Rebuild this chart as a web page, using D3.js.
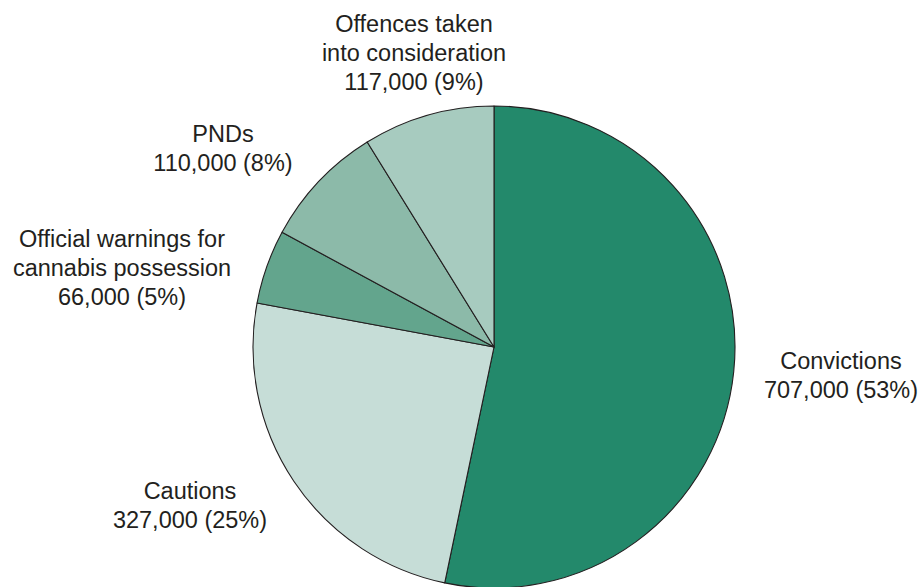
<!DOCTYPE html>
<html>
<head>
<meta charset="utf-8">
<script src="https://cdn.jsdelivr.net/npm/d3@7"></script>
<style>
  body { margin: 0; background: #fff; }
  text { font-family: "Liberation Sans", Arial, sans-serif; font-size: 23.5px; fill: #231f20; }
</style>
</head>
<body>
<svg width="920" height="587"></svg>
<script>
// data
var categories = ["Convictions", "Cautions", "Official warnings for cannabis possession", "PNDs", "Offences taken into consideration"];
var values = [707000, 327000, 66000, 110000, 117000];
var percents = [53, 25, 5, 8, 9];
var labelLines = [
  ["Convictions"],
  ["Cautions"],
  ["Official warnings for", "cannabis possession"],
  ["PNDs"],
  ["Offences taken", "into consideration"]
];

var colors = ["#23896b", "#c6ddd7", "#63a58d", "#8cbaa9", "#a7cbbf"];
// where each label block's last line sits (x centre, baseline)
var labelPos = [[841, 398], [190, 528], [122, 305], [223, 171], [414, 90]];

var svg = d3.select("svg"),
    cx = 494,
    cy = 347,
    radius = 241,
    lineH = 29;

var fmt = d3.format(",");

var pie = d3.pie().sort(null).value(function(d) { return d; });
var arc = d3.arc().innerRadius(0).outerRadius(radius);

var g = svg.append("g")
    .attr("transform", "translate(" + cx + "," + cy + ")");

g.selectAll("path")
  .data(pie(values))
  .enter().append("path")
  .attr("d", arc)
  .attr("fill", function(d, i) { return colors[i]; })
  .attr("stroke", "#231f20")
  .attr("stroke-width", 1.1)
  .attr("stroke-linejoin", "round");

var labels = svg.selectAll(".lbl")
  .data(categories)
  .enter().append("text")
  .attr("class", "lbl")
  .attr("text-anchor", "middle");

labels.each(function(d, i) {
  var lines = labelLines[i].concat([fmt(values[i]) + " (" + percents[i] + "%)"]);
  var t = d3.select(this);
  var x = labelPos[i][0],
      yLast = labelPos[i][1];
  lines.forEach(function(s, j) {
    t.append("tspan")
      .attr("x", x)
      .attr("y", yLast - (lines.length - 1 - j) * lineH)
      .text(s);
  });
});
</script>
</body>
</html>
